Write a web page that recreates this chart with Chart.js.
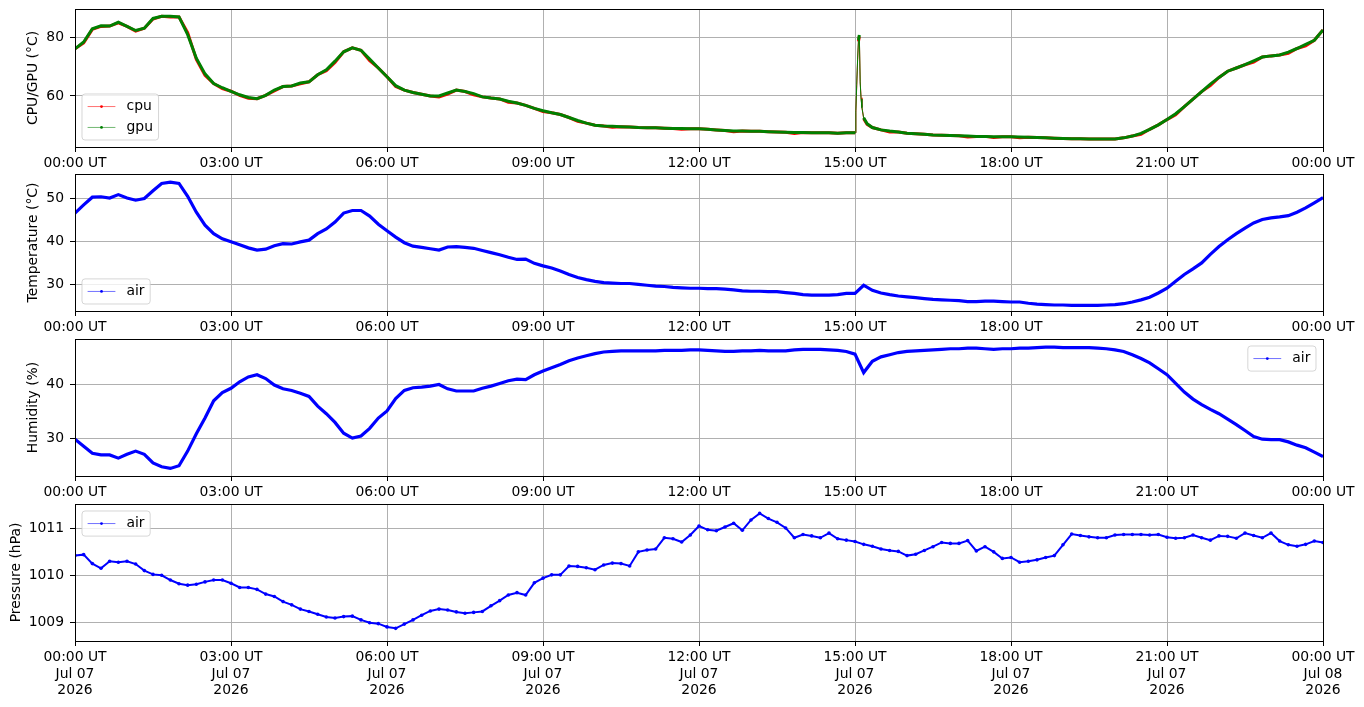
<!DOCTYPE html>
<html>
<head>
<meta charset="utf-8">
<title>Board and air sensors</title>
<script src="https://cdn.jsdelivr.net/npm/chart.js@4.4.1/dist/chart.umd.min.js"></script>
<style>
  html, body { margin: 0; padding: 0; background: #fff; }
  #wrap { position: relative; width: 1364px; height: 707px; overflow: hidden; }
  canvas { position: absolute; left: 0; }
</style>
</head>
<body>
<div id="wrap">
  <canvas id="cpuChart" width="1364" height="173" style="top:0px"></canvas>
  <canvas id="tempChart" width="1364" height="172" style="top:165px"></canvas>
  <canvas id="humChart" width="1364" height="172" style="top:330px"></canvas>
  <canvas id="presChart" width="1364" height="212" style="top:495px"></canvas>
</div>
<script>
'use strict';

// one reading every 10 minutes, 00:00 UT to 00:00 UT the next day
const sampleStep = 10;
let sampleMinutes = [];
for (let m = 0; m <= 1440; m += sampleStep) {
  sampleMinutes.push(m);
}

const hourTicks = [0, 180, 360, 540, 720, 900, 1080, 1260, 1440];
const hourLabels = ['00:00 UT', '03:00 UT', '06:00 UT', '09:00 UT', '12:00 UT',
  '15:00 UT', '18:00 UT', '21:00 UT', '00:00 UT'];
const dateLabels = ['Jul 07', 'Jul 07', 'Jul 07', 'Jul 07', 'Jul 07',
  'Jul 07', 'Jul 07', 'Jul 07', 'Jul 08'];
const yearLabels = ['2026', '2026', '2026', '2026', '2026', '2026', '2026', '2026', '2026'];

// board temperatures (deg C)
const gpuTemps = [
  76.0, 78.3, 82.8, 83.8, 83.7, 85.0, 83.6, 82.2, 83.0, 86.3,
  87.0, 87.0, 86.8, 80.8, 72.8, 67.5, 64.2, 62.8, 61.6, 60.4,
  59.5, 59.1, 60.2, 62.0, 63.2, 63.4, 64.4, 64.8, 67.2, 68.9,
  71.8, 75.0, 76.3, 75.5, 72.5, 69.5, 66.5, 63.5, 62.0, 61.2,
  60.6, 60.0, 60.0, 61.0, 62.0, 61.5, 60.8, 59.7, 59.3, 59.0,
  58.2, 57.6, 56.8, 55.8, 55.0, 54.3, 53.7, 52.7, 51.7, 50.8,
  50.1, 49.8, 49.7, 49.6, 49.5, 49.3, 49.2, 49.2, 49.1, 49.0,
  49.0, 48.9, 48.9, 48.7, 48.5, 48.3, 48.1, 48.1, 48.0, 48.0,
  47.9, 47.8, 47.7, 47.6, 47.6, 47.5, 47.5, 47.5, 47.4, 47.5,
  47.5, 52.6, 49.3, 48.5, 48.1, 47.8, 47.4, 47.2, 47.0, 46.8,
  46.7, 46.6, 46.5, 46.4, 46.3, 46.3, 46.2, 46.2, 46.2, 46.1,
  46.0, 45.9, 45.8, 45.7, 45.6, 45.5, 45.5, 45.4, 45.4, 45.4,
  45.4, 45.8, 46.4, 47.3, 48.7, 50.2, 52.0, 54.0, 56.4, 58.9,
  61.5, 64.0, 66.3, 68.4, 69.5, 70.6, 71.9, 73.2, 73.6, 73.9,
  74.9, 76.1, 77.5, 78.9, 82.4
];
const cpuTemps = [
  76.0, 78.0, 82.6, 83.6, 83.7, 84.8, 83.6, 82.0, 83.0, 86.1,
  87.0, 86.8, 86.8, 81.5, 72.4, 67.0, 64.2, 62.5, 61.6, 60.2,
  59.2, 59.1, 60.2, 61.7, 63.2, 63.4, 64.1, 64.8, 67.2, 68.6,
  71.4, 75.0, 76.3, 75.5, 72.0, 69.5, 66.5, 63.2, 62.0, 61.2,
  60.6, 60.0, 59.7, 60.6, 62.0, 61.5, 60.4, 59.7, 59.3, 59.0,
  57.9, 57.6, 56.8, 55.8, 54.7, 54.3, 53.7, 52.7, 51.4, 50.8,
  50.1, 49.8, 49.4, 49.6, 49.5, 49.3, 49.2, 49.2, 49.1, 49.0,
  48.7, 48.9, 48.9, 48.7, 48.5, 48.3, 47.9, 48.1, 48.0, 48.0,
  47.9, 47.8, 47.7, 47.3, 47.6, 47.5, 47.5, 47.5, 47.4, 47.5,
  47.5, 52.3, 49.3, 48.5, 47.8, 47.8, 47.4, 47.2, 47.0, 46.8,
  46.7, 46.6, 46.5, 46.1, 46.3, 46.3, 45.9, 46.2, 46.2, 45.8,
  46.0, 45.9, 45.8, 45.7, 45.6, 45.5, 45.5, 45.4, 45.4, 45.4,
  45.4, 45.8, 46.4, 47.0, 48.7, 50.2, 52.0, 53.6, 56.4, 58.9,
  61.5, 63.5, 66.3, 68.4, 69.5, 70.6, 71.5, 73.2, 73.6, 73.9,
  74.5, 76.1, 77.0, 78.9, 82.4
];
// short load spike just after 15:00 UT, read at one-minute detail
const spikeMinutes = [901, 902, 903, 904, 905, 906, 907, 908, 914];
const spikeGpu = [55.0, 64.0, 72.5, 79.0, 80.7, 64.4, 59.0, 56.0, 50.6];
const spikeCpu = [54.5, 63.5, 72.0, 78.5, 80.2, 64.8, 59.4, 56.3, 50.4];

// air sensor
const airTemps = [
  46.6, 48.5, 50.3, 50.4, 50.1, 50.9, 50.1, 49.6, 50.0, 51.8,
  53.5, 53.8, 53.5, 50.5, 46.8, 43.8, 41.8, 40.6, 39.9, 39.2,
  38.5, 38.0, 38.2, 39.0, 39.5, 39.4, 39.9, 40.3, 41.8, 42.9,
  44.5, 46.6, 47.2, 47.2, 45.9, 44.0, 42.5, 41.0, 39.7, 38.9,
  38.6, 38.3, 38.0, 38.7, 38.8, 38.6, 38.4, 37.9, 37.4, 36.9,
  36.3, 35.8, 35.9, 34.9, 34.3, 33.8, 33.1, 32.3, 31.6, 31.1,
  30.7, 30.4, 30.3, 30.2, 30.2, 30.0, 29.8, 29.6, 29.5, 29.3,
  29.2, 29.1, 29.1, 29.0, 29.0, 28.9, 28.7, 28.5, 28.4, 28.4,
  28.3, 28.3, 28.1, 27.9, 27.6, 27.5, 27.5, 27.5, 27.6, 27.9,
  27.9, 29.8, 28.6, 28.0, 27.6, 27.3, 27.1, 26.9, 26.7, 26.5,
  26.4, 26.3, 26.2, 26.0, 26.0, 26.1, 26.1, 26.0, 25.9, 25.9,
  25.6, 25.4, 25.3, 25.2, 25.2, 25.1, 25.1, 25.1, 25.1, 25.2,
  25.3, 25.5, 25.9, 26.4, 27.0, 28.0, 29.1, 30.7, 32.3, 33.6,
  35.0, 37.0, 38.8, 40.4, 41.8, 43.1, 44.3, 45.1, 45.5, 45.7,
  46.0, 46.8, 47.8, 49.0, 50.2
];
const airHumidity = [
  29.9, 28.6, 27.3, 27.0, 27.0, 26.4, 27.1, 27.7, 27.1, 25.5,
  24.8, 24.5, 25.0, 27.7, 30.9, 33.8, 37.0, 38.5, 39.3, 40.5,
  41.4, 41.8, 41.1, 39.9, 39.2, 38.9, 38.4, 37.8, 36.0, 34.6,
  33.0, 31.0, 30.1, 30.5, 31.9, 33.8, 35.1, 37.4, 38.9, 39.4,
  39.5, 39.7, 40.0, 39.2, 38.8, 38.8, 38.8, 39.3, 39.7, 40.2,
  40.7, 41.0, 40.9, 41.8, 42.5, 43.1, 43.7, 44.4, 44.9, 45.3,
  45.7, 46.0, 46.1, 46.2, 46.2, 46.2, 46.2, 46.2, 46.3, 46.3,
  46.3, 46.4, 46.4, 46.3, 46.2, 46.1, 46.1, 46.2, 46.2, 46.3,
  46.2, 46.2, 46.2, 46.4, 46.5, 46.5, 46.5, 46.4, 46.3, 46.1,
  45.6, 42.2, 44.3, 45.1, 45.5, 45.9, 46.1, 46.2, 46.3, 46.4,
  46.5, 46.6, 46.6, 46.7, 46.7, 46.6, 46.5, 46.6, 46.6, 46.7,
  46.7, 46.8, 46.9, 46.9, 46.8, 46.8, 46.8, 46.8, 46.7, 46.6,
  46.4, 46.1, 45.5, 44.8, 44.0, 42.9, 41.8, 40.2, 38.6, 37.3,
  36.3, 35.4, 34.6, 33.6, 32.6, 31.5, 30.4, 29.9, 29.8, 29.8,
  29.4, 28.8, 28.3, 27.5, 26.7
];
const airPressure = [
  1010.42, 1010.44, 1010.25, 1010.15, 1010.30, 1010.28, 1010.30, 1010.24, 1010.10, 1010.02,
  1010.00, 1009.90, 1009.82, 1009.79, 1009.81, 1009.86, 1009.90, 1009.90, 1009.83, 1009.74,
  1009.74, 1009.70, 1009.60, 1009.55, 1009.44, 1009.37, 1009.28, 1009.23, 1009.17, 1009.11,
  1009.09, 1009.12, 1009.13, 1009.05, 1008.99, 1008.97, 1008.90, 1008.87, 1008.96, 1009.05,
  1009.15, 1009.24, 1009.28, 1009.26, 1009.22, 1009.19, 1009.21, 1009.23, 1009.35, 1009.46,
  1009.58, 1009.63, 1009.58, 1009.84, 1009.94, 1010.01, 1010.01, 1010.20, 1010.19, 1010.16,
  1010.12, 1010.22, 1010.26, 1010.25, 1010.20, 1010.50, 1010.54, 1010.56, 1010.80, 1010.78,
  1010.71, 1010.86, 1011.05, 1010.97, 1010.95, 1011.03, 1011.11, 1010.96, 1011.18, 1011.32,
  1011.21, 1011.13, 1011.01, 1010.80, 1010.87, 1010.84, 1010.80, 1010.90, 1010.78, 1010.75,
  1010.72, 1010.66, 1010.62, 1010.56, 1010.53, 1010.51, 1010.42, 1010.45, 1010.53, 1010.61,
  1010.70, 1010.68, 1010.68, 1010.74, 1010.52, 1010.61, 1010.50, 1010.36, 1010.38, 1010.28,
  1010.30, 1010.33, 1010.38, 1010.42, 1010.65, 1010.88, 1010.85, 1010.82, 1010.80, 1010.80,
  1010.86, 1010.87, 1010.87, 1010.87, 1010.86, 1010.87, 1010.81, 1010.79, 1010.80, 1010.86,
  1010.80, 1010.75, 1010.84, 1010.83, 1010.79, 1010.90, 1010.85, 1010.80, 1010.90, 1010.73,
  1010.65, 1010.62, 1010.66, 1010.73, 1010.70
];

// y tick positions per panel
const cpuTicks = [60, 80];
const tempTicks = [30, 40, 50];
const humidityTicks = [30, 40];
const pressureTicks = [1009, 1010, 1011];

const fontFamily = '"DejaVu Sans", sans-serif';
const fontSize = 13.9;
Chart.defaults.font.family = fontFamily;
Chart.defaults.font.size = fontSize;
Chart.defaults.color = '#000';

function toPoints(values, extraMinutes, extraValues) {
  let points = values.map((v, i) => ({x: sampleMinutes[i], y: v}));
  if (extraMinutes) {
    extraMinutes.forEach((m, i) => points.push({x: m, y: extraValues[i]}));
    points.sort((a, b) => a.x - b.x);
  }
  return points;
}

function makeSeries(label, color, points, width, radius, order) {
  return {
    label: label,
    data: points,
    order: order,
    borderColor: color,
    backgroundColor: color,
    borderWidth: width,
    pointRadius: radius,
    pointBorderWidth: 0,
    pointHoverRadius: 0,
    tension: 0,
    fill: false,
    // inside the one-minute spike only the thin joining line shows
    segment: {
      borderWidth: (ctx) => (Math.abs(ctx.p1.x - ctx.p0.x) < 5 &&
        Math.abs(ctx.p1.y - ctx.p0.y) > 7 ? 1 : undefined)
    }
  };
}

// black frame round the plot area, like the spines
const spineBox = {
  id: 'spineBox',
  afterDraw(chart) {
    const a = chart.chartArea;
    const ctx = chart.ctx;
    ctx.save();
    ctx.strokeStyle = '#000';
    ctx.lineWidth = 1;
    ctx.strokeRect(Math.round(a.left) + 0.5, Math.round(a.top) + 0.5,
      Math.round(a.right - a.left), Math.round(a.bottom - a.top));
    ctx.restore();
  }
};

// legend box drawn inside the plot area, entries in dataset index order
const boxLegend = {
  id: 'boxLegend',
  afterDatasetsDraw(chart, args, opts) {
    const ctx = chart.ctx;
    const a = chart.chartArea;
    const sets = chart.data.datasets;
    const pad = 5.6, handle = 27.8, gap = 11.1, rowH = 13.9, rowGap = 7, inset = 7;
    ctx.save();
    ctx.font = fontSize + 'px ' + fontFamily;
    let textW = Math.max(...sets.map(d => ctx.measureText(d.label).width));
    let w = pad * 2 + handle + gap + textW;
    let h = pad * 2 + sets.length * rowH + (sets.length - 1) * rowGap;
    let x = opts.corner.indexOf('right') >= 0 ? a.right - inset - w : a.left + inset;
    let y = opts.corner.indexOf('lower') >= 0 ? a.bottom - inset - h : a.top + inset;
    ctx.beginPath();
    ctx.roundRect(x, y, w, h, 3);
    ctx.fillStyle = 'rgba(255,255,255,0.8)';
    ctx.fill();
    ctx.strokeStyle = 'rgba(204,204,204,0.8)';
    ctx.lineWidth = 1;
    ctx.stroke();
    sets.forEach((d, i) => {
      let cy = y + pad + rowH / 2 + i * (rowH + rowGap);
      ctx.beginPath();
      ctx.moveTo(x + pad, cy);
      ctx.lineTo(x + pad + handle, cy);
      ctx.strokeStyle = d.borderColor;
      ctx.globalAlpha = 0.8;
      ctx.lineWidth = 0.7;
      ctx.stroke();
      ctx.globalAlpha = 1;
      ctx.beginPath();
      ctx.arc(x + pad + handle / 2, cy, 1.4, 0, Math.PI * 2);
      ctx.fillStyle = d.borderColor;
      ctx.fill();
      ctx.fillStyle = '#000';
      ctx.textBaseline = 'middle';
      ctx.textAlign = 'left';
      ctx.fillText(d.label, x + pad + handle + gap, cy);
    });
    ctx.restore();
  }
};

function makeOptions(yMin, yMax, yTicks, yTitle, titlePad, bottomSpace, withDates, corner) {
  return {
    responsive: false,
    animation: false,
    events: [],
    layout: { padding: { top: 9, right: 41, bottom: 0, left: 0 } },
    plugins: {
      legend: { display: false },
      tooltip: { enabled: false },
      boxLegend: { corner: corner }
    },
    scales: {
      x: {
        type: 'linear',
        min: 0,
        max: 1440,
        afterBuildTicks: (scale) => { scale.ticks = hourTicks.map(v => ({value: v})); },
        afterFit: (scale) => { scale.height = bottomSpace; },
        ticks: {
          autoSkip: false,
          maxRotation: 0,
          minRotation: 0,
          padding: 3,
          font: { size: fontSize, lineHeight: 1.2 },
          callback: (value, index) => withDates ?
            [hourLabels[index], dateLabels[index], yearLabels[index]] : hourLabels[index]
        },
        grid: { color: '#b0b0b0', lineWidth: 1, tickLength: 5, tickColor: '#000', tickWidth: 1 },
        border: { display: true, color: '#000', width: 1 }
      },
      y: {
        type: 'linear',
        min: yMin,
        max: yMax,
        afterBuildTicks: (scale) => { scale.ticks = yTicks.map(v => ({value: v})); },
        afterFit: (scale) => {
          scale.width = 75;
          scale.paddingTop = 0;
          scale.paddingBottom = 0;
        },
        ticks: { padding: 6, font: { size: fontSize }, callback: (value) => String(value) },
        grid: { color: '#b0b0b0', lineWidth: 1, tickLength: 5, tickColor: '#000', tickWidth: 1 },
        border: { display: true, color: '#000', width: 1 },
        title: {
          display: true,
          text: yTitle,
          font: { size: fontSize, lineHeight: 1.2 },
          padding: { top: titlePad, bottom: 0 }
        }
      }
    }
  };
}

// gpu is drawn over cpu, as in the source plot
new Chart(document.getElementById('cpuChart'), {
  type: 'line',
  data: {
    datasets: [
      makeSeries('cpu', '#ff0000', toPoints(cpuTemps, spikeMinutes, spikeCpu), 3, 0, 2),
      makeSeries('gpu', '#008000', toPoints(gpuTemps, spikeMinutes, spikeGpu), 3, 0, 1)
    ]
  },
  options: makeOptions(42.7, 89.5, cpuTicks, 'CPU/GPU (°C)', 24.7, 26, false, 'lower left'),
  plugins: [boxLegend, spineBox]
});

new Chart(document.getElementById('tempChart'), {
  type: 'line',
  data: { datasets: [makeSeries('air', '#0000ff', toPoints(airTemps), 3.2, 0, 1)] },
  options: makeOptions(23.8, 55.7, tempTicks, 'Temperature (°C)', 24.7, 26, false, 'lower left'),
  plugins: [boxLegend, spineBox]
});

new Chart(document.getElementById('humChart'), {
  type: 'line',
  data: { datasets: [makeSeries('air', '#0000ff', toPoints(airHumidity), 3.2, 0, 1)] },
  options: makeOptions(23.1, 48.4, humidityTicks, 'Humidity (%)', 24.7, 26, false, 'upper right'),
  plugins: [boxLegend, spineBox]
});

new Chart(document.getElementById('presChart'), {
  type: 'line',
  data: { datasets: [makeSeries('air', '#0000ff', toPoints(airPressure), 2, 1.8, 1)] },
  options: makeOptions(1008.6, 1011.52, pressureTicks, 'Pressure (hPa)', 7.7, 66, true, 'upper left'),
  plugins: [boxLegend, spineBox]
});
</script>
</body>
</html>
